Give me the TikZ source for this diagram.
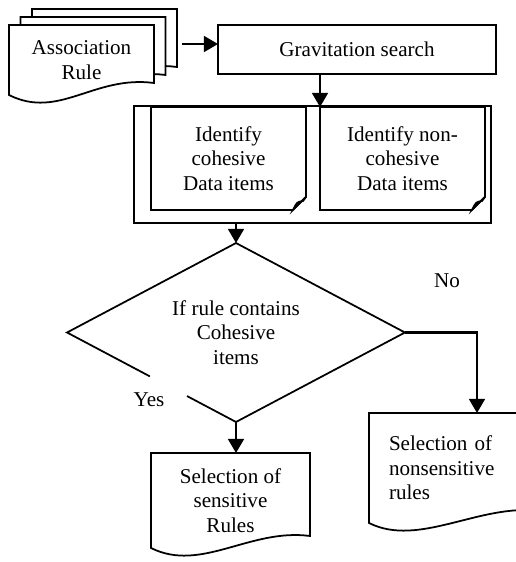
\documentclass[tikz,border=0pt]{standalone}
\usepackage{fontspec}
\setmainfont{Liberation Serif}
\usetikzlibrary{arrows.meta,shapes.geometric,backgrounds,calc}

\tikzset{
  % plain text
  txt/.style={font=\fontsize{12}{14}\selectfont,align=center,
    inner sep=0pt,outer sep=0pt},
  % outlines
  shapeline/.style={line width=1pt,black},
  % document with wavy bottom (outline drawn on background)
  docnode/.style={txt,rectangle},
  % process box
  procbox/.style={txt,rectangle,draw,line width=1pt},
  % box with folded corner (outline drawn on background)
  foldnode/.style={txt,rectangle,minimum height=2.06cm},
  % decision
  decnode/.style={txt,diamond,aspect=2,
    minimum width=6.76cm,minimum height=3.58cm},
  % arrows
  arr/.style={-{Triangle[length=8pt,width=9pt]},line width=1.2pt},
}

% document outline round a node
\newcommand{\docshape}[1]{%
  \draw[shapeline,fill=white] (#1.north west) -- (#1.north east)
    -- ($(#1.south east)+(0,-12)$)
    .. controls +(-60,-8) and +(50,25) .. (#1.south west) -- cycle;}

% box outline with a folded corner
\newcommand{\foldbox}[1]{%
  \draw[shapeline,fill=white] (#1.north west) -- (#1.north east)
    -- ($(#1.south east)+(0,-13)$) -- ($(#1.south east)+(-13,0)$)
    -- (#1.south west) -- cycle;
  \draw[shapeline,fill=black!20] ($(#1.south east)+(-13,0)$)
    .. controls ($(#1.south east)+(-9,-8)$) .. ($(#1.south east)+(-3,-9)$)
    -- ($(#1.south east)+(0,-13)$) -- cycle;}

\begin{document}
\begin{tikzpicture}[x=0.02cm,y=-0.02cm]
  \useasboundingbox (0,0) rectangle (516,562);
  \clip (0,0) rectangle (516,562);

  % stack of association rules
  \node[docnode,minimum width=2.9cm,minimum height=1.4cm] (asc3) at (104.5,44) {};
  \node[docnode,minimum width=2.9cm,minimum height=1.4cm] (asc2) at (93,52) {};
  \node[docnode,minimum width=2.9cm,minimum height=1.4cm] (asc) at (81.5,60)
    {Association\\Rule};

  \node[procbox,minimum width=5.56cm,minimum height=0.98cm] (grav) at (357,49.5)
    {Gravitation search};

  % grouped identification step
  \node[procbox,minimum width=7.14cm,minimum height=2.34cm] (grp) at (312.5,164.5) {};
  \node[foldnode,minimum width=3.1cm] (id1) at (228.5,158.5)
    {Identify\\cohesive\\Data items};
  \node[foldnode,minimum width=3.3cm] (id2) at (402.5,158.5)
    {Identify non-\\cohesive\\Data items};

  \node[decnode] (dec) at (236,332.5) {If rule contains\\Cohesive\\items};
  \node[txt] (yes) at (149,400) {Yes};
  \node[txt] (no) at (447,281) {No};

  \node[docnode,minimum width=3.18cm,minimum height=1.9cm] (sen) at (230.5,500.5)
    {Selection of\\sensitive\\Rules};
  \node[docnode,minimum width=3.42cm,minimum height=2.2cm,
    text width=2.62cm,align=left] (non) at (454.5,468)
    {Selection of\\nonsensitive\\rules};

  \begin{scope}[on background layer]
    \docshape{asc3} \docshape{asc2} \docshape{asc}
    \docshape{sen} \docshape{non}
    \foldbox{id1} \foldbox{id2}
  \end{scope}

  % decision outline, open where the Yes label sits
  \draw[shapeline] ($(dec.west)!0.71!(dec.south)$) -- (dec.south) -- (dec.east)
    -- (dec.north) -- (dec.west) -- ($(dec.west)!0.49!(dec.south)$);

  \draw[arr,shorten <=0.1cm] (asc3.east) -- (asc3.east -| grav.west);
  \draw[arr] (grav.south -| id2.north west) -- (id2.north west);
  \draw[arr] (grp.south -| dec.north) -- (dec.north);
  \draw[arr] (dec.south) -- (dec.south |- sen.north);
  \coordinate (noturn) at (477,332.5);
  \draw[arr] (dec.east) -- (noturn) -- (noturn |- non.north);

\end{tikzpicture}
\end{document}
